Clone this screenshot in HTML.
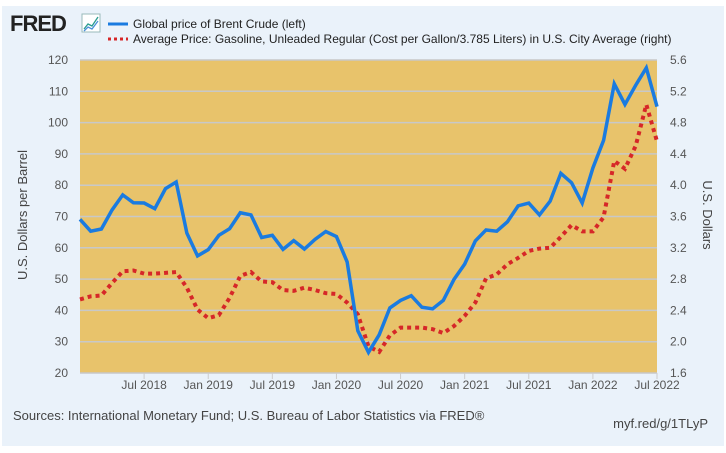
<!DOCTYPE html>
<html><head><meta charset="utf-8"><style>
body{margin:0;width:726px;height:448px;background:#fff;font-family:"Liberation Sans",sans-serif;overflow:hidden}
</style></head><body>
<svg width="726" height="448" xmlns="http://www.w3.org/2000/svg">
<rect x="2" y="6" width="722" height="440" fill="#eaf2fa"/>
<text x="10" y="31" font-size="22" font-weight="bold" fill="#222" letter-spacing="-1">FRED</text>
<g><rect x="82" y="14" width="18" height="18" fill="#fff" stroke="#9bb" stroke-width="1"/><polyline points="84,29 88,24 92,26 98,17" fill="none" stroke="#2a9d8f" stroke-width="1.3"/><polyline points="84,31 88,27 92,29 98,21" fill="none" stroke="#4a90d9" stroke-width="1.3"/></g>
<g>
<line x1="108" y1="24" x2="128" y2="24" stroke="#1a7be0" stroke-width="3"/>
<text x="133" y="28" font-size="12" fill="#222">Global price of Brent Crude (left)</text>
<line x1="108" y1="39" x2="128" y2="39" stroke="#d62728" stroke-width="3" stroke-dasharray="3,3"/>
<text x="133" y="43" font-size="12" fill="#222">Average Price: Gasoline, Unleaded Regular (Cost per Gallon/3.785 Liters) in U.S. City Average (right)</text>
</g>
<rect x="80" y="60" width="577" height="313" fill="#e8c36b"/>
<g id="grid"></g><g id="ticks"></g><g id="series"></g>
<text transform="translate(27,215) rotate(-90)" text-anchor="middle" font-size="13" fill="#444">U.S. Dollars per Barrel</text>
<text transform="translate(703,215) rotate(90)" text-anchor="middle" font-size="13" fill="#444">U.S. Dollars</text>
<text x="13" y="420" font-size="13" fill="#444">Sources: International Monetary Fund; U.S. Bureau of Labor Statistics via FRED®</text>
<text x="708" y="428" text-anchor="end" font-size="13" fill="#444">myf.red/g/1TLyP</text>
</svg>
<script>
const leftTicks=[20,30,40,50,60,70,80,90,100,110,120];
const rightTicks=["1.6","2.0","2.4","2.8","3.2","3.6","4.0","4.4","4.8","5.2","5.6"];
const xLabels=["Jul 2018","Jan 2019","Jul 2019","Jan 2020","Jul 2020","Jan 2021","Jul 2021","Jan 2022","Jul 2022"];
const xLabelMonths=[6,12,18,24,30,36,42,48,54];
const brent=[69.1,65.3,66.0,72.1,76.9,74.4,74.3,72.5,78.9,81.0,64.7,57.4,59.4,64.0,66.1,71.2,70.5,63.3,64.0,59.5,62.3,59.6,62.7,65.2,63.6,55.5,33.5,26.6,32.2,40.8,43.2,44.7,41.0,40.5,43.2,49.9,54.8,62.2,65.7,65.3,68.3,73.4,74.3,70.5,74.9,83.8,80.8,74.3,85.5,94.3,112.4,105.8,111.9,117.5,105.1];
const gasoline=[2.54,2.58,2.59,2.75,2.90,2.91,2.87,2.87,2.88,2.89,2.69,2.41,2.30,2.34,2.56,2.84,2.89,2.77,2.76,2.66,2.65,2.69,2.66,2.62,2.61,2.50,2.35,1.94,1.87,2.08,2.18,2.18,2.18,2.16,2.11,2.20,2.33,2.50,2.81,2.86,2.99,3.07,3.16,3.19,3.20,3.34,3.49,3.41,3.41,3.59,4.31,4.21,4.50,5.03,4.56];
const NS="http://www.w3.org/2000/svg";
const X0=80,X1=657,Y0=373,Y1=60;
const x=i=>X0+(X1-X0)*i/54;
const yL=v=>Y0-(v-20)/100*(Y0-Y1);
const yR=v=>Y0-(v-1.6)/4*(Y0-Y1);
function mk(t,a,p){const e=document.createElementNS(NS,t);for(const k in a)e.setAttribute(k,a[k]);p.appendChild(e);return e;}
const grid=document.getElementById('grid'),ticks=document.getElementById('ticks'),series=document.getElementById('series');
leftTicks.forEach((v,i)=>{
 const g=mk('line',{x1:X0,x2:X1,y1:yL(v),y2:yL(v),stroke:'#c8c8c8','stroke-width':1.5},grid);
 
 
 const t=mk('text',{x:68,y:yL(v)+4,'text-anchor':'end','font-size':12,fill:'#555'},ticks);t.textContent=v;
 
 
 const r=mk('text',{x:670,y:yL(v)+4,'font-size':12,fill:'#555'},ticks);r.textContent=rightTicks[i];
 
 
});
xLabels.forEach((l,i)=>{
 const xx=x(xLabelMonths[i]);
 const tk=mk('line',{x1:xx,x2:xx,y1:Y0,y2:Y0+6,stroke:'#ccc'},ticks);
 
 
 const t=mk('text',{x:xx,y:Y0+16,'text-anchor':'middle','font-size':12,fill:'#555'},ticks);t.textContent=l;
 
 
});
const gp=mk('polyline',{points:gasoline.map((v,i)=>x(i)+','+yR(v)).join(' '),fill:'none',stroke:'#d62728','stroke-width':4,'stroke-dasharray':'4,4'},series);


const bp=mk('polyline',{points:brent.map((v,i)=>x(i)+','+yL(v)).join(' '),fill:'none',stroke:'#1a7be0','stroke-width':3.5,'stroke-linejoin':'miter'},series);


</script>
</body></html>
